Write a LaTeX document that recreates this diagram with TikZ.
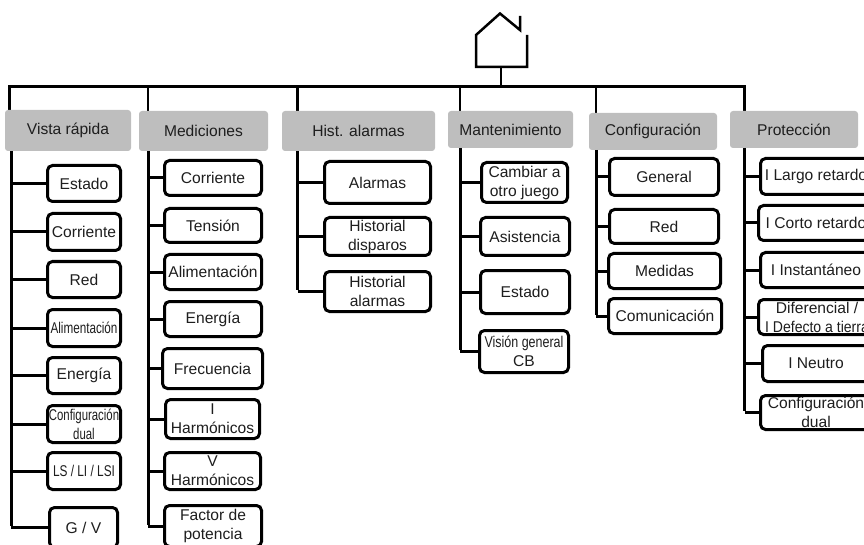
\documentclass[tikz,border=0pt]{standalone}
\usepackage{fontspec}
\setmainfont{Liberation Sans}
\definecolor{ink}{HTML}{1E1E1E}
\definecolor{hdrgrey}{HTML}{BEBEBE}
\tikzset{
  basefont/.style={font=\fontsize{15.6}{19}\selectfont, text=ink, align=center, inner sep=0pt, outer sep=0pt},
  hdr/.style={basefont, fill=hdrgrey, rounded corners=3pt},
  itembox/.style={basefont, draw=black, fill=white, line width=3pt, rounded corners=5pt},
  conn/.style={draw=black, line width=3pt, line cap=butt},
  wire/.style={draw=black, line width=2.5pt, line join=miter},
}
% \hbx{name}{x0}{x1}{y0}{y1}{text}
\newcommand{\hbx}[6]{\node[hdr, minimum width=#3-#2, minimum height=#5-#4] (#1) at ({(#2+#3)/2},{(#4+#5)/2}) {#6};}
% \ibx{name}{trunk}{x0}{x1}{y0}{y1}{text}
\newcommand{\ibx}[7]{\node[itembox, minimum width=#4-#3-3, minimum height=#6-#5-3] (#1) at ({(#3+#4)/2},{(#5+#6)/2}) {#7};
  \draw[conn] (#2 |- #1.west) -- (#1.west);}
\newcommand{\nar}[2]{\scalebox{#1}[1]{#2}}
\begin{document}
\begin{tikzpicture}[x=1pt,y=-1pt]
\useasboundingbox (0,0) rectangle (864,545);
\clip (0,0) rectangle (864,545);
% root icon
\coordinate (hBL) at (476,67);
\coordinate (hTL) at (476,35);
\coordinate (hApex) at (500,13.5);
\coordinate (hRoof) at (520,30);
\coordinate (hSpur) at (520,16);
\coordinate (hTR) at (527,35);
\coordinate (hBR) at (527,67);
\coordinate (hStem) at (501,67);
\draw[wire] (hTR) -- (hBR) -- (hBL) -- (hTL) -- (hApex) -- (hRoof) -- (hSpur);
% bus positions
\coordinate (t0) at (9.5,86.5);
\coordinate (t1) at (11,86.5);
\coordinate (t2) at (148,86.5);
\coordinate (t3) at (297.5,86.5);
\coordinate (t4) at (460,86.5);
\coordinate (t5) at (596,86.5);
\coordinate (t6) at (744.5,86.5);
\coordinate (bus) at (501,86.5);
% bus
\draw[wire] (t0 |- 0,111) -- (t0) -- (t6) -- (t6 |- 0,111);
\draw[wire] (hStem) -- (bus);
\draw[wire] (t2) -- (t2 |- 0,112);
\draw[wire] (t3) -- (t3 |- 0,112);
\draw[wire] (t4) -- (t4 |- 0,112);
\draw[wire] (t5) -- (t5 |- 0,114);
% headers
\hbx{h1}{5}{131}{110}{151}{Vista rápida}
\hbx{h2}{139}{268}{111}{151}{Mediciones}
\hbx{h3}{282}{435}{111}{151}{Hist. alarmas}
\hbx{h4}{448}{573}{111}{148}{Mantenimiento}
\hbx{h5}{589}{717}{113}{150}{Configuración}
\hbx{h6}{730}{858}{111}{148}{Protección}
% column 1
\ibx{a1}{t1}{46}{122}{164}{203}{Estado}
\ibx{a2}{t1}{46}{122}{212}{252}{Corriente}
\ibx{a3}{t1}{46}{122}{260}{299}{Red}
\ibx{a4}{t1}{46}{122}{308}{348}{\nar{.75}{Alimentación}}
\ibx{a5}{t1}{46}{122}{356}{395}{Energía}
\ibx{a6}{t1}{46}{122}{404}{444}{\nar{.73}{Configuración}\\\nar{.73}{dual}}
\ibx{a7}{t1}{46}{122}{451}{491}{\nar{.76}{LS / LI / LSI}}
\ibx{a8}{t1}{48}{119}{506}{549}{G / V}
% column 2
\ibx{b1}{t2}{163}{263}{159}{197}{Corriente}
\ibx{b2}{t2}{163}{263}{207}{244}{Tensión}
\ibx{b3}{t2}{163}{263}{253}{291}{Alimentación}
\ibx{b4}{t2}{163}{263}{300}{338}{Energía}
\ibx{b5}{t2}{161}{264}{347}{390}{Frecuencia}
\ibx{b6}{t2}{164}{261}{398}{440}{I\\Harmónicos}
\ibx{b7}{t2}{163}{262}{451}{491}{V\\Harmónicos}
\ibx{b8}{t2}{163}{263}{504}{548}{Factor de\\potencia}
% column 3
\ibx{c1}{t3}{323}{432}{160}{205}{Alarmas}
\ibx{c2}{t3}{323}{432}{216}{257}{Historial\\disparos}
\ibx{c3}{t3}{323}{432}{270}{313}{Historial\\alarmas}
% column 4
\ibx{d1}{t4}{480}{569}{161}{204}{Cambiar a\\otro juego}
\ibx{d2}{t4}{479}{571}{216}{257}{Asistencia}
\ibx{d3}{t4}{479}{571}{269}{315}{Estado}
\ibx{d4}{t4}{478}{570}{329}{374}{\nar{.8}{Visión general}\\CB}
% column 5
\ibx{e1}{t5}{608}{720}{157}{197}{General}
\ibx{e2}{t5}{608}{720}{208}{245}{Red}
\ibx{e3}{t5}{607}{722}{252}{290}{Medidas}
\ibx{e4}{t5}{607}{723}{297}{335}{Comunicación}
% column 6
\ibx{f1}{t6}{759}{873}{157}{196}{I Largo retardo}
\ibx{f2}{t6}{757}{875}{204}{242}{I Corto retardo}
\ibx{f3}{t6}{759}{873}{251}{289}{I Instantáneo}
\ibx{f4}{t6}{757}{877}{298}{336}{Diferencial /\\\nar{.9}{I Defecto a tierra}}
\ibx{f5}{t6}{761}{871}{344}{383}{I Neutro}
\ibx{f6}{t6}{759}{873}{394}{431}{Configuración\\dual}
% trunks
\draw[conn] (h1.south -| t1) -- ([yshift=1.5pt]t1 |- a8.west);
\draw[conn] (h2.south -| t2) -- ([yshift=1.5pt]t2 |- b8.west);
\draw[conn] (h3.south -| t3) -- ([yshift=1.5pt]t3 |- c3.west);
\draw[conn] (h4.south -| t4) -- ([yshift=1.5pt]t4 |- d4.west);
\draw[conn] (h5.south -| t5) -- ([yshift=1.5pt]t5 |- e4.west);
\draw[conn] (h6.south -| t6) -- ([yshift=1.5pt]t6 |- f6.west);
\end{tikzpicture}
\end{document}
